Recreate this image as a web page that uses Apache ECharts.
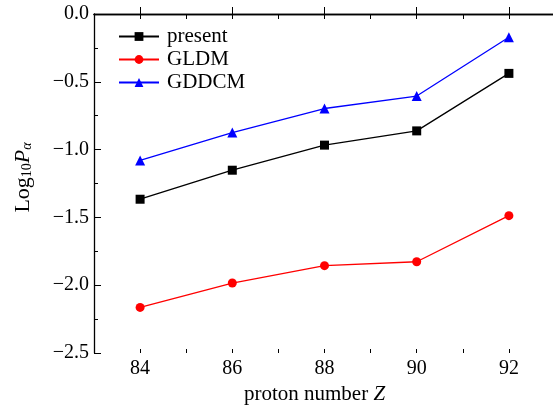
<!DOCTYPE html>
<html>
<head>
<meta charset="utf-8">
<script src="https://cdn.jsdelivr.net/npm/echarts@6/dist/echarts.min.js"></script>
<style>
  html, body { margin: 0; padding: 0; background: #fff; }
  #chart { width: 553px; height: 406px; }
</style>
</head>
<body>
<div id="chart"></div>
<script>
// 质子数
const protonNumbers = [84, 86, 88, 90, 92];
// 各模型的 log10 Pα
const present = [-1.366, -1.152, -0.967, -0.862, -0.438];
const gldm = [-2.164, -1.984, -1.856, -1.827, -1.487];
const gddcm = [-1.080, -0.874, -0.697, -0.605, -0.172];

const serif = '"Liberation Serif", "DejaVu Serif", serif';
const minus = (v) => String(v).replace('-', '\u2212');

const pairs = (ys) => protonNumbers.map((x, i) => [x, ys[i]]);

const chart = echarts.init(document.getElementById('chart'));

const black = { color: '#000', width: 1.3 };

const option = {
  backgroundColor: '#fff',
  animation: false,
  grid: { left: 94, top: 14, right: -2, bottom: 53, outerBoundsMode: 'none' },
  legend: {
    orient: 'vertical',
    left: 113,
    top: 21,
    itemWidth: 40,
    itemHeight: 11,
    itemGap: 2,
    textStyle: { fontFamily: serif, fontSize: 21, color: '#000', padding: [0, 0, 0, 3] },
    data: ['present', 'GLDM', 'GDDCM']
  },
  xAxis: [{
    // 底部主轴: 偶数刻度 + 标签
    type: 'value',
    min: 83,
    max: 93,
    interval: 1,
    position: 'bottom',
    name: '{n|proton number }{i|Z}',
    nameLocation: 'middle',
    nameGap: 26,
    nameTextStyle: {
      padding: [0, 20, 0, 0],
      rich: {
        n: { fontFamily: serif, fontSize: 21, color: '#000' },
        i: { fontFamily: serif, fontSize: 21, fontStyle: 'italic', color: '#000' }
      }
    },
    axisLine: { show: true, lineStyle: black },
    axisTick: { inside: true, length: 7, customValues: protonNumbers, lineStyle: { color: '#000' } },
    axisLabel: {
      fontFamily: serif, fontSize: 20, color: '#000', margin: 6,
      customValues: protonNumbers
    },
    splitLine: { show: false }
  }, {
    // 底部奇数短刻度
    type: 'value',
    min: 83,
    max: 93,
    interval: 1,
    position: 'bottom',
    axisLine: { show: false },
    axisTick: { inside: true, length: 4, lineStyle: { color: '#000' } },
    axisLabel: { show: false },
    splitLine: { show: false }
  }, {
    // 顶部镜像轴
    type: 'value',
    min: 83,
    max: 93,
    interval: 1,
    position: 'top',
    axisLine: { show: true, lineStyle: black },
    axisTick: { inside: true, length: 5, lineStyle: { color: '#000' } },
    axisLabel: { show: false },
    splitLine: { show: false }
  }],
  yAxis: {
    type: 'value',
    min: -2.5,
    max: 0,
    interval: 0.5,
    name: '{n|Log}{s|10}{i|P}{a|α}',
    nameLocation: 'middle',
    nameGap: 60,
    nameTextStyle: {
      padding: [0, 0, 0, 12],
      rich: {
        n: { fontFamily: serif, fontSize: 22, color: '#000' },
        s: { fontFamily: serif, fontSize: 14, color: '#000', verticalAlign: 'bottom', padding: [8, 0, 0, 0] },
        i: { fontFamily: serif, fontSize: 22, fontStyle: 'italic', color: '#000' },
        a: { fontFamily: serif, fontSize: 14, fontStyle: 'italic', color: '#000', verticalAlign: 'bottom', padding: [8, 0, 0, 0] }
      }
    },
    axisLine: { show: true, lineStyle: black },
    axisTick: { inside: true, length: 7, lineStyle: { color: '#000' } },
    minorTick: { show: true, splitNumber: 2, length: 4, lineStyle: { color: '#000' } },
    axisLabel: {
      fontFamily: serif, fontSize: 20, color: '#000', margin: 5,
      formatter: (v) => minus(v.toFixed(1))
    },
    splitLine: { show: false }
  },
  series: [{
    name: 'present',
    type: 'line',
    data: pairs(present),
    symbol: 'rect',
    symbolSize: 9,
    itemStyle: { color: '#000' },
    lineStyle: { color: '#000', width: 1.3 }
  }, {
    name: 'GLDM',
    type: 'line',
    data: pairs(gldm),
    symbol: 'circle',
    symbolSize: 9,
    itemStyle: { color: '#ff0000' },
    lineStyle: { color: '#ff0000', width: 1.3 }
  }, {
    name: 'GDDCM',
    type: 'line',
    data: pairs(gddcm),
    symbol: 'triangle',
    symbolSize: 10,
    itemStyle: { color: '#0000ff' },
    lineStyle: { color: '#0000ff', width: 1.3 }
  }]
};

chart.setOption(option);
</script>
</body>
</html>
